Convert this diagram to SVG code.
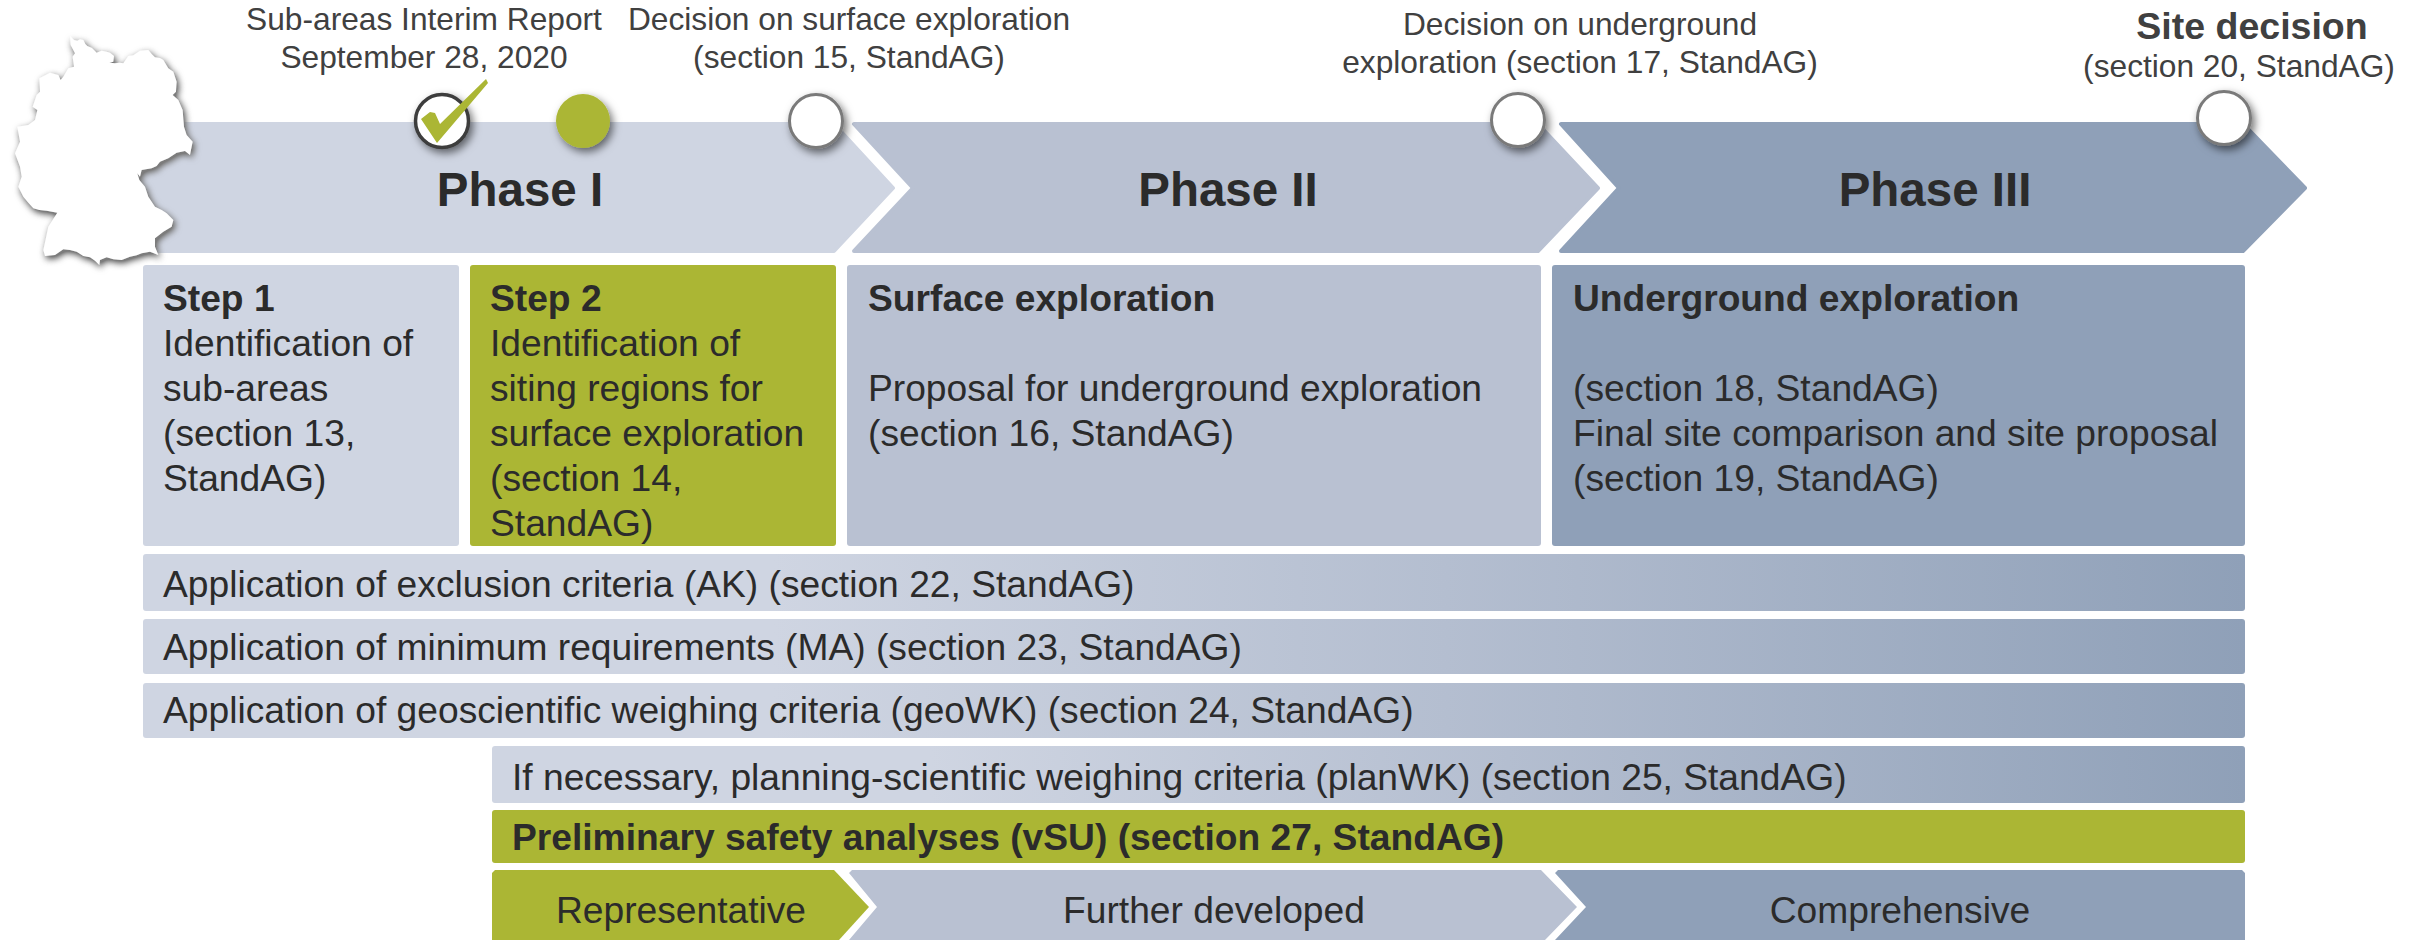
<svg xmlns="http://www.w3.org/2000/svg" width="2425" height="940" viewBox="0 0 2425 940">
<defs>
<style>
text{font-family:"Liberation Sans",Arial,sans-serif;fill:#2b2b2b}
.top{font-size:31.7px;fill:#404040;text-anchor:middle}
.phase{font-size:47.5px;font-weight:700;text-anchor:middle}
.body{font-size:37.2px}
.b{font-weight:700}
.mid{text-anchor:middle}
.p1{fill:#cfd5e2;stroke:#cfd5e2}
.p2{fill:#b9c1d2;stroke:#b9c1d2}
.p3{fill:#8fa0b8;stroke:#8fa0b8}
.arrow{stroke-width:4;stroke-linejoin:round}
.fp1{fill:#cfd5e2}.fp2{fill:#b9c1d2}.fp3{fill:#8fa0b8}.fg{fill:#abb634}
.fgrad{fill:url(#barGrad)}
.fgrad2{fill:url(#barGrad2)}
.ms{fill:#fff;stroke:#7a7a7a;stroke-width:3;filter:url(#sh)}
</style>
<linearGradient id="barGrad" x1="0" x2="1" y1="0" y2="0"><stop offset="0.3" stop-color="#cfd5e2"/><stop offset="0.62" stop-color="#b4bed0"/><stop offset="1" stop-color="#8fa0b8"/></linearGradient>
<linearGradient id="barGrad2" x1="0" x2="1" y1="0" y2="0"><stop offset="0.25" stop-color="#cfd5e2"/><stop offset="0.58" stop-color="#b4bed0"/><stop offset="1" stop-color="#8fa0b8"/></linearGradient>
<filter id="sh" x="-40%" y="-40%" width="190%" height="190%"><feDropShadow dx="3" dy="4" stdDeviation="4" flood-color="#000" flood-opacity="0.55"/></filter>
<filter id="shg" x="-15%" y="-15%" width="130%" height="130%"><feGaussianBlur in="SourceAlpha" stdDeviation="11"/><feOffset dx="6" dy="8"/><feComponentTransfer result="s"><feFuncR type="linear" slope="0" intercept="0.2"/><feFuncG type="linear" slope="0" intercept="0.2"/><feFuncB type="linear" slope="0" intercept="0.2"/><feFuncA type="linear" slope="1.5"/></feComponentTransfer><feMerge><feMergeNode in="s"/><feMergeNode in="SourceGraphic"/></feMerge></filter>
</defs>

<g id="phase-1"><polygon class="p1 arrow" points="130,124 834,124 893,188 834,251 130,251"/><text class="phase" x="520" y="206">Phase I</text></g>
<g id="phase-2"><polygon class="p2 arrow" points="854,124 1538,124 1598,188 1538,251 854,251 913,188"/><text class="phase" x="1228" y="206">Phase II</text></g>
<g id="phase-3"><polygon class="p3 arrow" points="1561,124 2243,124 2305,188 2243,251 1561,251 1619,188"/><text class="phase" x="1935" y="206">Phase III</text></g>

<g id="germany"><path filter="url(#shg)" fill="#fff" transform="translate(0 20) scale(.3333)" d="M210 48L222 60 232 62 240 58 250 60 256 72 262 78 276 84 290 98 305 92 320 95 330 98 342 108 340 125 328 128 345 130 358 128 370 130 385 108 400 106 420 92 445 90 455 102 465 112 480 114 490 120 505 145 520 155 530 185 528 215 518 225 535 240 548 270 552 320 560 345 578 365 570 405 555 393 530 398 505 415 480 425 470 438 455 445 425 450 420 470 412 460 418 480 435 500 445 530 465 560 485 570 500 580 520 600 515 620 490 635 465 655 465 680 475 705 450 695 425 700 410 706 390 710 365 720 340 718 320 712 300 720 298 735 285 722 270 712 250 708 230 695 210 690 190 688 165 705 135 708 130 690 145 620 172 578 140 572 118 570 100 565 85 548 70 530 55 500 65 470 60 440 45 400 60 365 52 320 85 315 105 300 112 270 98 260 110 225 120 215 118 175 150 158 175 165 182 180 190 170 205 145 222 140 218 110 225 100 212 75Z"/></g>

<g id="milestone-interim"><circle cx="442" cy="121" r="26.5" fill="#fff" stroke="#3c3c3c" stroke-width="3.5" filter="url(#sh)"/><polygon class="fg" points="421,119 430,112 435,113 440,124 486,79 488,83 437,143"/><text class="top" x="424" y="30">Sub-areas Interim Report</text><text class="top" x="424" y="68">September 28, 2020</text></g>
<g id="milestone-current"><circle class="fg" cx="583" cy="121" r="27" filter="url(#sh)"/></g>
<g id="milestone-surface"><circle class="ms" cx="816" cy="121" r="26.5"/><text class="top" x="849" y="30">Decision on surface exploration</text><text class="top" x="849" y="68">(section 15, StandAG)</text></g>
<g id="milestone-underground"><circle class="ms" cx="1518" cy="120" r="26.5"/><text class="top" x="1580" y="35">Decision on underground</text><text class="top" x="1580" y="73">exploration (section 17, StandAG)</text></g>
<g id="milestone-site"><circle class="ms" cx="2224" cy="118" r="26.5"/><text class="top b" x="2252" y="39" style="font-size:37.5px">Site decision</text><text class="top" x="2239" y="77">(section 20, StandAG)</text></g>

<g id="step-1"><rect class="fp1" x="143" y="265" width="316" height="281" rx="3"/><text class="body"><tspan x="163" y="311" class="b">Step 1</tspan><tspan x="163" y="356">Identification of</tspan><tspan x="163" y="401">sub-areas</tspan><tspan x="163" y="446">(section 13,</tspan><tspan x="163" y="491">StandAG)</tspan></text></g>
<g id="step-2"><rect class="fg" x="470" y="265" width="366" height="281" rx="3"/><text class="body"><tspan x="490" y="311" class="b">Step 2</tspan><tspan x="490" y="356">Identification of</tspan><tspan x="490" y="401">siting regions for</tspan><tspan x="490" y="446">surface exploration</tspan><tspan x="490" y="491">(section 14,</tspan><tspan x="490" y="536">StandAG)</tspan></text></g>
<g id="surface"><rect class="fp2" x="847" y="265" width="694" height="281" rx="3"/><text class="body"><tspan x="868" y="311" class="b">Surface exploration</tspan><tspan x="868" y="401">Proposal for underground exploration</tspan><tspan x="868" y="446">(section 16, StandAG)</tspan></text></g>
<g id="underground"><rect class="fp3" x="1552" y="265" width="693" height="281" rx="3"/><text class="body"><tspan x="1573" y="311" class="b">Underground exploration</tspan><tspan x="1573" y="401">(section 18, StandAG)</tspan><tspan x="1573" y="446">Final site comparison and site proposal</tspan><tspan x="1573" y="491">(section 19, StandAG)</tspan></text></g>

<g id="bar-ak"><rect class="fgrad" x="143" y="554" width="2102" height="57" rx="3"/><text class="body" x="163" y="597">Application of exclusion criteria (AK) (section 22, StandAG)</text></g>
<g id="bar-ma"><rect class="fgrad" x="143" y="619" width="2102" height="55" rx="3"/><text class="body" x="163" y="660">Application of minimum requirements (MA) (section 23, StandAG)</text></g>
<g id="bar-geowk"><rect class="fgrad" x="143" y="683" width="2102" height="55" rx="3"/><text class="body" x="163" y="723">Application of geoscientific weighing criteria (geoWK) (section 24, StandAG)</text></g>
<g id="bar-planwk"><rect class="fgrad2" x="492" y="746" width="1753" height="57" rx="3"/><text class="body" x="512" y="790">If necessary, planning-scientific weighing criteria (planWK) (section 25, StandAG)</text></g>
<g id="bar-vsu"><rect class="fg" x="492" y="810" width="1753" height="53" rx="3"/><text class="body b" x="512" y="850">Preliminary safety analyses (vSU) (section 27, StandAG)</text></g>

<g id="representative"><polygon class="fg" points="492,873 495,870 834,870 869,907 839,940 492,940"/><text class="body mid" x="681" y="923">Representative</text></g>
<g id="further"><polygon class="fp2" points="849,873 852,870 1541,870 1577,907 1545,940 849,940 877,907"/><text class="body mid" x="1214" y="923">Further developed</text></g>
<g id="comprehensive"><polygon class="fp3" points="1555,873 1558,870 2242,870 2245,873 2245,940 1555,940 1586,907"/><text class="body mid" x="1900" y="923">Comprehensive</text></g>
</svg>
